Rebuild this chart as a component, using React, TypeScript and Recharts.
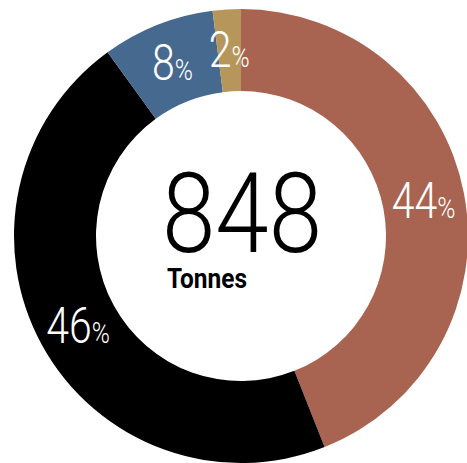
import { PieChart, Pie, Cell, Label } from 'recharts';

const categories = ['A', 'B', 'C', 'D'];
const shares = [44, 46, 8, 2];
const colors = ['#A86450', '#000000', '#46698F', '#B6965A'];
const totalLabel = '848';
const unitLabel = 'Tonnes';

const data = categories.map((name, i) => ({ name, value: shares[i] }));

const CX = 241;
const CY = 236;
const INNER = 145;
const OUTER = 227;
const RADIAN = Math.PI / 180;
const FONT = 'Roboto, "Liberation Sans", sans-serif';

function SliceLabel(props: any) {
    const { midAngle, value } = props;
    const r = (INNER + OUTER) / 2;
    const x = CX + r * Math.cos(-midAngle * RADIAN);
    const y = CY + r * Math.sin(-midAngle * RADIAN);
    return (
        <g transform={`translate(${x},${y}) scale(0.82,1)`}>
            <text
                x={0}
                y={17}
                textAnchor="middle"
                fill="#ffffff"
                fontFamily={FONT}
                fontWeight={300}
            >
                <tspan fontSize={50}>{value}</tspan>
                <tspan fontSize={30}>%</tspan>
            </text>
        </g>
    );
}

function CenterText() {
    return (
        <g>
            <text
                x={242}
                y={252}
                textAnchor="middle"
                fontSize={112}
                fontFamily={FONT}
                fontWeight={300}
                fill="#000000"
                textLength={160}
                lengthAdjust="spacingAndGlyphs"
            >
                {totalLabel}
            </text>
            <text
                x={167}
                y={288}
                fontSize={28}
                fontFamily={FONT}
                fontWeight={700}
                fill="#000000"
                textLength={80}
                lengthAdjust="spacingAndGlyphs"
            >
                {unitLabel}
            </text>
        </g>
    );
}

export default function App() {
    return (
        <div style={{ position: 'fixed', left: 0, top: 0, width: 467, height: 463, background: '#fff' }}>
            <PieChart width={467} height={463} margin={{ top: 0, right: 0, bottom: 0, left: 0 }}>
                <Pie
                    data={data}
                    dataKey="value"
                    cx={CX}
                    cy={CY}
                    innerRadius={INNER}
                    outerRadius={OUTER}
                    startAngle={90}
                    endAngle={-270}
                    stroke="none"
                    labelLine={false}
                    label={SliceLabel}
                    isAnimationActive={false}
                >
                    {data.map((d, i) => (
                        <Cell key={d.name} fill={colors[i]} />
                    ))}
                    <Label position="center" content={<CenterText />} />
                </Pie>
            </PieChart>
        </div>
    );
}
